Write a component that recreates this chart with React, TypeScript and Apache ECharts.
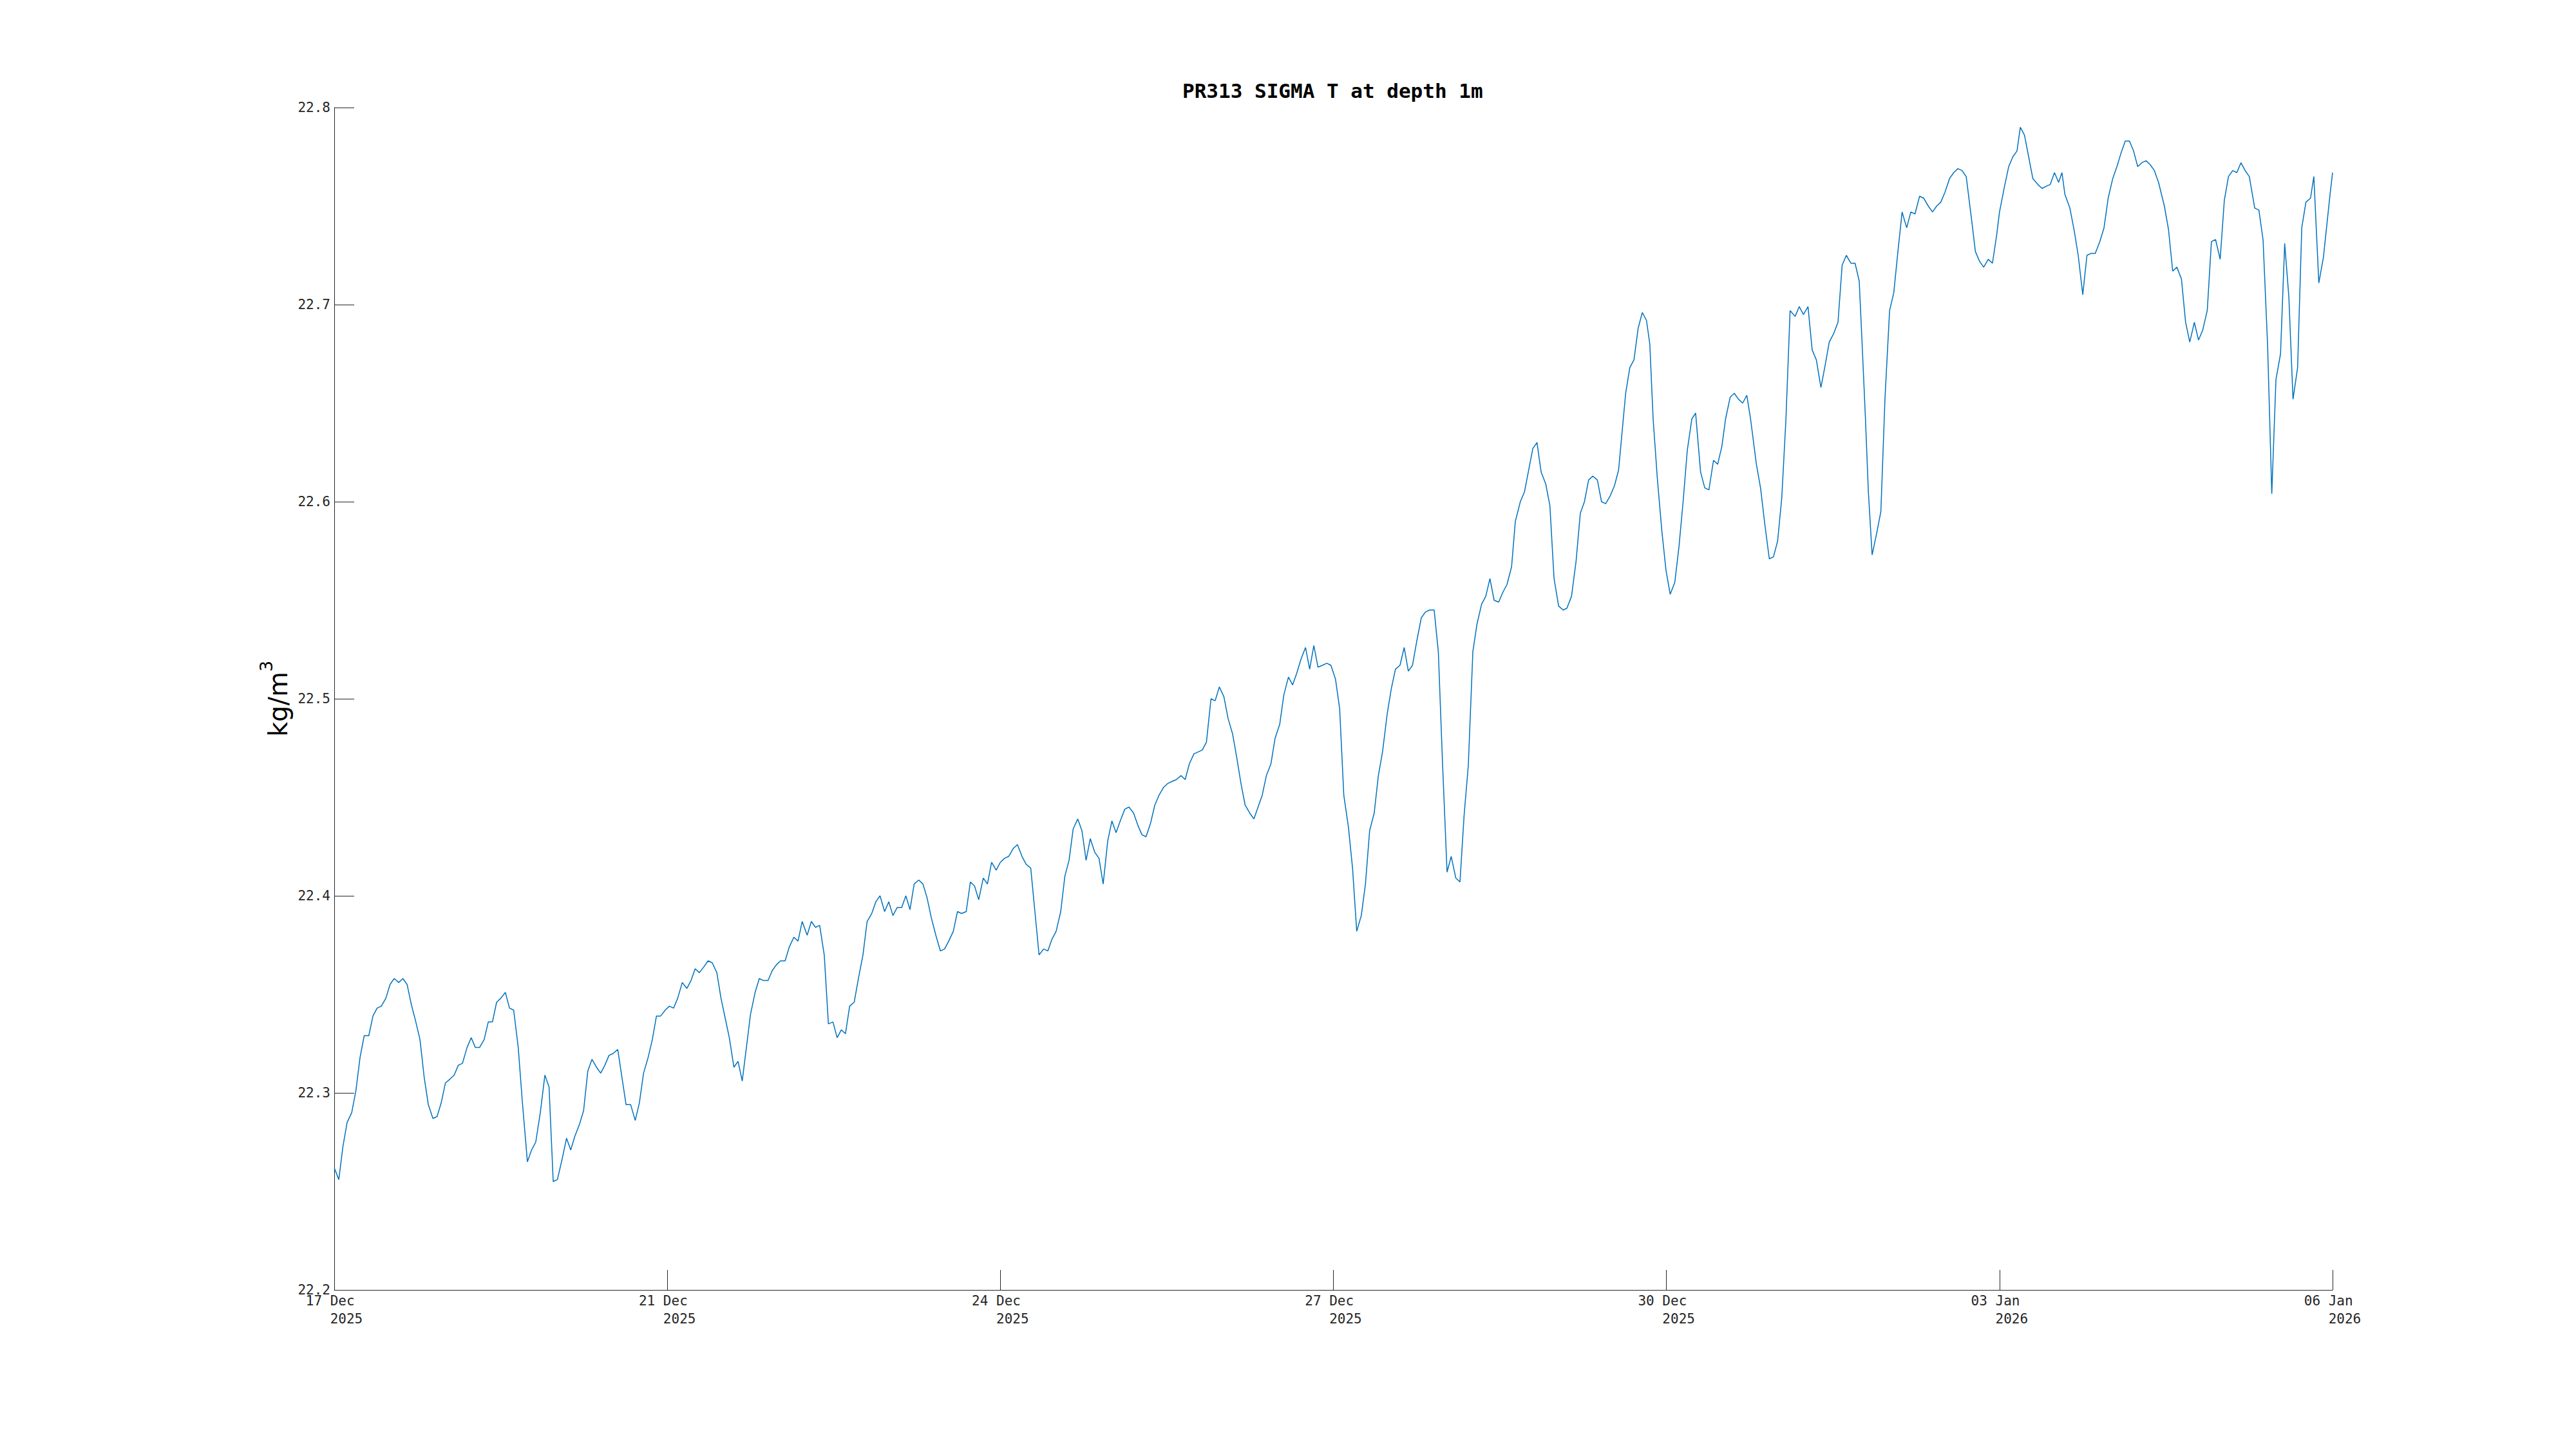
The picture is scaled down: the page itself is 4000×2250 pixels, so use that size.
import React, { useEffect, useRef } from 'react';
import * as echarts from 'echarts';

const chartTitle = 'PR313 SIGMA T at depth 1m';
const yUnitBase = 'kg/m';
const yUnitSup = '3';

// x axis: hours since the first tick, 7 ticks spaced 80 h apart
const xTickDates = ['17 Dec', '21 Dec', '24 Dec', '27 Dec', '30 Dec', '03 Jan', '06 Jan'];
const xTickYears = ['2025', '2025', '2025', '2025', '2025', '2026', '2026'];
const yMin = 22.2;
const yMax = 22.8;
const yStep = 0.1;

// sample time (hours from first tick) and sigma-t values (kg/m3)
const hours = [
  0.0, 1.1, 2.1, 3.1, 4.2, 5.2, 6.2, 7.2, 8.3, 9.3, 10.3, 11.3, 12.4, 13.4, 14.4, 15.5, 16.5, 17.5, 18.5, 19.6,
  20.6, 21.6, 22.6, 23.7, 24.7, 25.7, 26.7, 27.8, 28.8, 29.8, 30.8, 31.9, 32.9, 33.9, 34.9, 36.0, 37.0, 38.0, 39.0, 40.0,
  41.1, 42.1, 43.1, 44.2, 45.2, 46.4, 47.4, 48.4, 49.5, 50.6, 51.6, 52.6, 53.6, 54.7, 55.8, 56.8, 57.8, 58.9, 59.9, 60.9,
  61.9, 63.0, 64.0, 65.0, 66.0, 67.0, 68.1, 69.1, 70.1, 71.2, 72.3, 73.3, 74.3, 75.4, 76.4, 77.4, 78.4, 79.5, 80.5, 81.5,
  82.5, 83.6, 84.7, 85.7, 86.7, 87.7, 88.8, 89.8, 90.8, 91.9, 92.9, 93.9, 94.9, 96.0, 97.0, 98.0, 99.0, 100.0, 101.1, 102.1,
  103.1, 104.2, 105.2, 106.2, 107.2, 108.3, 109.3, 110.4, 111.4, 112.4, 113.6, 114.6, 115.6, 116.6, 117.7, 118.7,
  119.8, 120.8, 121.8, 122.8, 123.8, 124.9, 125.9, 127.0, 128.0, 129.1, 130.1, 131.1, 132.2, 133.2, 134.2, 135.2, 136.3, 137.3,
  138.3, 139.3, 140.4, 141.4, 142.4, 143.4, 144.5, 145.6, 146.6, 147.6, 148.7, 149.7, 150.7, 151.8, 152.8, 153.8, 154.8, 155.9,
  156.9, 157.9, 159.0, 160.0, 161.0, 162.0, 163.1, 164.1, 165.2, 166.2, 167.3, 168.3, 169.3, 170.4, 171.4, 172.4, 173.4, 174.5,
  175.5, 176.5, 177.5, 178.6, 179.6, 180.6, 181.6, 182.7, 183.7, 184.7, 185.8, 186.8, 187.8, 188.8, 189.9, 190.9, 192.0, 193.0,
  194.0, 195.0, 196.1, 197.1, 198.1, 199.2, 200.2,
  201.2, 202.3, 203.4, 204.4, 205.4, 206.5, 207.5, 208.5, 209.5, 210.6, 211.6, 212.6, 213.7, 214.7, 215.8, 216.8, 217.8, 218.8,
  219.9, 220.9, 221.9, 222.9, 223.9, 225.0, 226.0, 227.1, 228.1, 229.2, 230.2, 231.2, 232.2, 233.3, 234.3, 235.3, 236.3, 237.4,
  238.4, 239.4, 240.5, 241.5, 242.5, 243.6, 244.6, 245.6, 246.7, 247.7, 248.7, 249.8, 250.8, 251.8, 252.9, 253.9, 254.9, 256.0,
  257.0, 258.0, 259.0, 260.0, 261.1, 262.1, 263.1, 264.2, 265.2, 266.2, 267.3, 268.3, 269.4, 270.4, 271.4, 272.4, 273.5, 274.5,
  275.6, 276.6, 277.6, 278.6, 279.7, 280.7, 281.7, 282.8,
  283.7, 284.9, 285.9, 286.9, 287.9, 288.9, 289.9, 291.0, 292.0, 293.0, 294.1, 295.2, 296.1, 297.2, 298.3, 299.3, 300.3, 301.3,
  302.3, 303.4, 304.4, 305.4, 306.5, 307.5, 308.5, 309.2, 310.2, 311.2, 312.2, 313.2, 314.2, 315.2, 316.0, 316.8, 317.8, 318.9,
  319.9, 320.9, 322.0, 323.0, 324.0, 325.0, 326.1, 327.0, 328.2, 329.2, 330.2, 331.3, 332.3, 333.3, 334.2, 335.3, 336.3, 337.3,
  338.3, 339.3, 340.2, 341.6, 342.6, 343.6, 344.7, 345.7, 346.7, 347.7, 348.7,
  349.7, 350.9, 351.9, 352.9, 354.0, 355.0, 356.0, 357.1, 358.1, 359.1, 360.1, 361.2, 362.2, 363.2, 364.3, 365.3, 366.3, 367.0,
  367.8, 368.5, 369.4, 370.5, 371.5, 372.5, 373.6, 374.6, 375.6, 376.6, 377.7, 378.7, 379.7, 380.8, 381.8, 382.9, 383.9, 384.9,
  385.9, 386.9, 388.0, 389.0, 390.0, 391.0, 392.0, 393.3, 394.2, 395.2, 396.2, 397.3, 398.3, 399.3, 400.0, 401.2, 402.2, 403.2,
  404.2, 405.0, 406.0, 407.0, 408.0, 409.2, 410.2, 411.2, 412.2, 413.2, 414.2, 415.0, 415.7, 416.9, 417.9, 418.9, 420.0, 421.0,
  422.0, 423.0, 424.1, 425.1, 426.1, 427.2, 428.2, 429.2, 430.2, 431.2, 432.2, 433.2, 434.2, 435.2, 436.2, 437.2, 438.2, 439.6,
  440.6, 441.6, 442.6, 443.7, 444.7, 445.7, 446.8, 447.8, 448.8, 449.9, 450.9, 451.9, 453.0, 454.0, 455.0, 456.0, 457.0, 458.0,
  459.0, 460.0, 461.3, 462.3, 463.3, 464.4, 465.4, 466.4, 467.5, 468.5, 469.5, 470.5, 471.6, 472.6, 473.6, 474.7, 475.5, 476.7,
  477.8, 478.6, 479.4, 480.0,
];

const sigmaT = [
  22.262, 22.256, 22.273, 22.285, 22.290, 22.301, 22.318, 22.329, 22.329, 22.339, 22.343, 22.344, 22.348, 22.355, 22.358, 22.356, 22.358, 22.355, 22.345, 22.336,
  22.327, 22.308, 22.294, 22.287, 22.288, 22.295, 22.305, 22.307, 22.309, 22.314, 22.315, 22.323, 22.328, 22.323, 22.323, 22.327, 22.336, 22.336, 22.346, 22.348,
  22.351, 22.343, 22.342, 22.323, 22.295, 22.265, 22.271, 22.275, 22.290, 22.309, 22.303, 22.255, 22.256, 22.266, 22.277, 22.271, 22.278, 22.284, 22.291, 22.311,
  22.317, 22.313, 22.310, 22.314, 22.319, 22.320, 22.322, 22.308, 22.294, 22.294, 22.286, 22.295, 22.310, 22.318, 22.327, 22.339, 22.339, 22.342, 22.344, 22.343,
  22.348, 22.356, 22.353, 22.357, 22.363, 22.361, 22.364, 22.367, 22.366, 22.361, 22.348, 22.338, 22.328, 22.313, 22.316, 22.306, 22.323, 22.340, 22.351, 22.358,
  22.357, 22.357, 22.362, 22.365, 22.367, 22.367, 22.374, 22.379, 22.377, 22.387, 22.380, 22.387, 22.384, 22.385, 22.370, 22.335,
  22.336, 22.328, 22.332, 22.330, 22.344, 22.346, 22.358, 22.370, 22.387, 22.391, 22.397, 22.400, 22.392, 22.397, 22.390, 22.394, 22.394, 22.400,
  22.393, 22.406, 22.408, 22.406, 22.399, 22.389, 22.380, 22.372, 22.373, 22.377, 22.382, 22.392, 22.391, 22.392, 22.407, 22.405, 22.398, 22.409,
  22.406, 22.417, 22.413, 22.417, 22.419, 22.420, 22.424, 22.426, 22.420, 22.416, 22.414, 22.392, 22.370, 22.373, 22.372, 22.378, 22.382, 22.392,
  22.410, 22.418, 22.434, 22.439, 22.433, 22.418, 22.429, 22.422, 22.419, 22.406, 22.428, 22.438, 22.432, 22.438, 22.444, 22.445, 22.442, 22.436,
  22.431, 22.430, 22.437, 22.446, 22.451, 22.455, 22.457,
  22.458, 22.459, 22.461, 22.459, 22.467, 22.472, 22.473, 22.474, 22.478, 22.500, 22.499, 22.506, 22.501, 22.490, 22.482, 22.470, 22.457, 22.446,
  22.442, 22.439, 22.445, 22.451, 22.461, 22.467, 22.480, 22.487, 22.502, 22.511, 22.507, 22.513, 22.520, 22.526, 22.515, 22.527, 22.516, 22.517,
  22.518, 22.517, 22.510, 22.495, 22.451, 22.435, 22.414, 22.382, 22.390, 22.406, 22.433, 22.442, 22.461, 22.473, 22.492, 22.505, 22.515, 22.517,
  22.526, 22.514, 22.517, 22.529, 22.541, 22.544, 22.545, 22.545, 22.524, 22.468, 22.412, 22.420, 22.409, 22.407, 22.441, 22.466, 22.524, 22.538,
  22.548, 22.552, 22.561, 22.550, 22.549, 22.554, 22.558, 22.567,
  22.590, 22.600, 22.605, 22.616, 22.627, 22.630, 22.615, 22.609, 22.598, 22.561, 22.547, 22.545, 22.546, 22.552, 22.570, 22.594, 22.600, 22.611,
  22.613, 22.611, 22.600, 22.599, 22.603, 22.608, 22.616, 22.632, 22.655, 22.668, 22.672, 22.688, 22.696, 22.692, 22.680, 22.642, 22.612, 22.585,
  22.565, 22.553, 22.559, 22.577, 22.600, 22.626, 22.642, 22.645, 22.615, 22.607, 22.606, 22.621, 22.619, 22.628, 22.642, 22.653, 22.655, 22.652,
  22.650, 22.654, 22.642, 22.619, 22.607, 22.589, 22.571, 22.572, 22.580, 22.602, 22.642,
  22.697, 22.694, 22.699, 22.695, 22.699, 22.677, 22.672, 22.658, 22.669, 22.681, 22.685, 22.691, 22.720, 22.725, 22.721, 22.721, 22.712, 22.680,
  22.642, 22.605, 22.573, 22.584, 22.595, 22.653, 22.697, 22.706, 22.727, 22.747, 22.739, 22.747, 22.746, 22.755, 22.754, 22.750, 22.747, 22.750,
  22.752, 22.757, 22.764, 22.767, 22.769, 22.768, 22.765, 22.743, 22.727, 22.722, 22.719, 22.723, 22.721, 22.735, 22.747, 22.760, 22.770, 22.775,
  22.778, 22.790, 22.786, 22.775, 22.764, 22.761, 22.759, 22.760, 22.761, 22.767, 22.762, 22.767, 22.756, 22.749, 22.738, 22.725, 22.705, 22.725,
  22.726, 22.726, 22.732, 22.739, 22.754, 22.764, 22.770, 22.777, 22.783, 22.783, 22.778, 22.770, 22.772, 22.773, 22.771, 22.768, 22.762, 22.750,
  22.738, 22.717, 22.719, 22.713, 22.691, 22.681, 22.691, 22.682, 22.687, 22.697, 22.732, 22.733, 22.723, 22.753, 22.765, 22.768, 22.767, 22.772,
  22.768, 22.765, 22.749, 22.748, 22.733, 22.679, 22.604, 22.662, 22.675, 22.731, 22.704, 22.652, 22.668, 22.739, 22.752, 22.754, 22.765, 22.711,
  22.724, 22.740, 22.756, 22.767,
];

const axisColor = '#262626';
const lineColor = '#0072BD';
const monoFont = 'DejaVu Sans Mono';
const sansFont = 'DejaVu Sans';

export default function App() {
  const ref = useRef<HTMLDivElement>(null);

  useEffect(() => {
    if (!ref.current) return;
    const chart = echarts.init(ref.current, null, { renderer: 'svg' });
    const data = hours.map((h, i) => [h, sigmaT[i]]);
    const nb = '\u00A0';
    chart.setOption({
      animation: false,
      backgroundColor: '#ffffff',
      title: {
        text: chartTitle,
        left: 1836,
        top: 125,
        padding: 0,
        textStyle: {
          fontFamily: monoFont,
          fontWeight: 'bold',
          fontSize: 31,
          color: '#000000',
        },
      },
      grid: {
        left: 519,
        top: 167,
        width: 3103,
        height: 1836,
        containLabel: false,
      },
      xAxis: {
        type: 'value',
        min: 0,
        max: 480,
        interval: 80,
        axisLine: { show: true, lineStyle: { color: axisColor, width: 1 } },
        axisTick: { show: true, inside: true, length: 31, lineStyle: { color: axisColor, width: 1 } },
        splitLine: { show: false },
        axisLabel: {
          show: true,
          margin: 3,
          fontFamily: monoFont,
          fontSize: 21,
          lineHeight: 28,
          color: axisColor,
          showMinLabel: true,
          showMaxLabel: true,
          formatter: (v: number) => {
            const i = Math.round(v / 80);
            return xTickDates[i] + nb + '\n' + nb + nb + nb + xTickYears[i];
          },
        },
      },
      yAxis: {
        type: 'value',
        min: yMin,
        max: yMax,
        interval: yStep,
        name: '{a|' + yUnitBase + '}{b|' + yUnitSup + '}',
        nameLocation: 'middle',
        nameGap: 57,
        nameTextStyle: {
          rich: {
            a: { fontFamily: sansFont, fontSize: 40, color: '#000000', verticalAlign: 'bottom', padding: [12, 0, 0, 0] },
            b: { fontFamily: sansFont, fontSize: 27, color: '#000000', verticalAlign: 'top' },
          },
        },
        axisLine: { show: true, lineStyle: { color: axisColor, width: 1 } },
        axisTick: { show: true, inside: true, length: 31, lineStyle: { color: axisColor, width: 1 } },
        splitLine: { show: false },
        axisLabel: {
          show: true,
          margin: 6,
          fontFamily: monoFont,
          fontSize: 21,
          color: axisColor,
          showMinLabel: true,
          showMaxLabel: true,
          formatter: (v: number) => v.toFixed(1),
        },
      },
      series: [
        {
          type: 'line',
          data,
          showSymbol: false,
          symbol: 'none',
          smooth: false,
          lineStyle: { color: lineColor, width: 1.5 },
          itemStyle: { color: lineColor },
        },
      ],
    });
    return () => chart.dispose();
  }, []);

  return (
    <div
      ref={ref}
      style={{ position: 'fixed', left: 0, top: 0, width: 4000, height: 2250, background: '#ffffff' }}
    />
  );
}
